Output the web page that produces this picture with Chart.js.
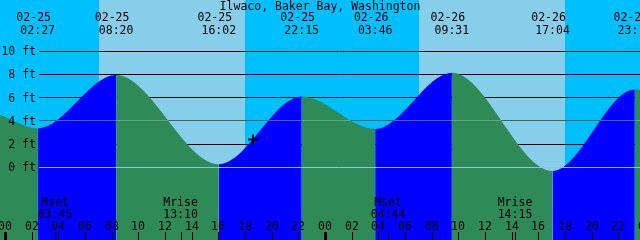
<!DOCTYPE html>
<html>
<head>
<meta charset="utf-8">
<title>Ilwaco, Baker Bay, Washington</title>
<script src="https://cdn.jsdelivr.net/npm/chart.js@4/dist/chart.umd.min.js"></script>
<style>
  html, body { margin: 0; padding: 0; background: #00bfff; overflow: hidden; }
  #wrap { width: 640px; height: 240px; }
</style>
</head>
<body>
<div id="wrap"><canvas id="tideChart" width="640" height="240"></canvas></div>
<script>
// --- DATA ---
const stationName = 'Ilwaco, Baker Bay, Washington';
const dayNames = ['02-25', '02-26'];

// high / low tides
const eventDay  = [0, 0, 0, 0, 1, 1, 1, 1];
const eventTime = ['02:27', '08:20', '16:02', '22:15', '03:46', '09:31', '17:04', '23:14'];
const eventFeet = [3.35, 7.95, 0.26, 6.1, 3.3, 8.15, -0.32, 6.7];

// window of the graph (hours from 02-25 00:00) and level at both edges
const viewHours = [-0.375, 47.625];
const edgeFeet  = [4.5, 6.68];

// sun (day band) and moon
const sunrise = ['07:03', '07:03'];
const sunset  = ['18:00', '18:00'];
const moonName = ['Mset', 'Mrise', 'Mset', 'Mrise'];
const moonDay  = [0, 0, 1, 1];
const moonTime = ['03:45', '13:10', '04:44', '14:15'];

// axes
const feetTicks = [0, 2, 4, 6, 8, 10];
const hourTicks = ['00','02','04','06','08','10','12','14','16','18','20','22'];
const feetRange = [-6.27, 14.42];
const mslFeet = 4;

// "now" marker
const nowHour = 18.6;
const nowFeet = 2.4;

// colours
const NIGHT = '#00bfff';
const DAY = '#87ceeb';
const RISE = '#0000ff';
const FALL = '#2e8b57';
const FONT = '11.5px "DejaVu Sans Mono", monospace';

// 1. HELPERS
function toHours(day, hhmm) {
    const [h, m] = hhmm.split(':').map(Number);
    return day * 24 + h + m / 60;
}

const eventHours = eventTime.map((t, i) => toHours(eventDay[i], t));
const tidePoints = [{ x: viewHours[0], y: edgeFeet[0] }]
    .concat(eventHours.map((h, i) => ({ x: h, y: eventFeet[i] })))
    .concat([{ x: viewHours[1], y: edgeFeet[1] }]);

// 2. BACKGROUND + LABELS PLUGIN
const tideDecor = {
    id: 'tideDecor',
    beforeDatasetsDraw(chart) {
        const { ctx, chartArea: a, scales: { x, y } } = chart;
        ctx.save();
        ctx.fillStyle = NIGHT;
        ctx.fillRect(a.left, a.top, a.right - a.left, a.bottom - a.top);

        // day bands
        ctx.fillStyle = DAY;
        sunrise.forEach((sr, d) => {
            const x0 = Math.round(x.getPixelForValue(toHours(d, sr)));
            const x1 = Math.round(x.getPixelForValue(toHours(d, sunset[d])));
            ctx.fillRect(x0, a.top, x1 - x0, a.bottom - a.top);
        });

        // depth lines (hidden under the water)
        ctx.strokeStyle = '#000';
        ctx.lineWidth = 1;
        feetTicks.forEach(f => {
            const py = Math.floor(y.getPixelForValue(f)) + 0.5;
            ctx.beginPath();
            ctx.moveTo(39, py);
            ctx.lineTo(a.right, py);
            ctx.stroke();
        });
        ctx.restore();
    },
    afterDatasetsDraw(chart) {
        const { ctx, chartArea: a, scales: { x, y } } = chart;
        ctx.save();

        // datum and mean sea level
        let py = Math.floor(y.getPixelForValue(0)) + 0.5;
        ctx.strokeStyle = '#87c8dc';
        ctx.beginPath(); ctx.moveTo(39, py); ctx.lineTo(a.right, py); ctx.stroke();
        py = Math.floor(y.getPixelForValue(mslFeet)) + 0.5;
        ctx.strokeStyle = 'rgba(140,200,170,0.5)';
        ctx.beginPath(); ctx.moveTo(39, py); ctx.lineTo(a.right, py); ctx.stroke();

        ctx.fillStyle = '#000';
        ctx.font = FONT;

        // feet labels
        ctx.textAlign = 'right';
        ctx.textBaseline = 'middle';
        feetTicks.forEach(f => ctx.fillText(f + ' ft', 36, y.getPixelForValue(f) + 1));

        // title
        ctx.textAlign = 'center';
        ctx.textBaseline = 'alphabetic';
        ctx.fillText(stationName, 320, 10);

        // tide event labels
        eventHours.forEach((h, i) => {
            const px = x.getPixelForValue(h);
            ctx.fillText(dayNames[eventDay[i]], px - 4, 21);
            ctx.fillText(eventTime[i], px, 34);
        });

        // moon labels + ticks
        moonName.forEach((m, i) => {
            const px = x.getPixelForValue(toHours(moonDay[i], moonTime[i]));
            ctx.fillText(m, px, 206);
            ctx.fillText(moonTime[i], px, 218);
            ctx.fillRect(Math.round(px), 232, 1, 8);
        });

        // hour ticks
        for (let d = 0; d <= 2; d++) {
            hourTicks.forEach((lbl, k) => {
                const h = d * 24 + k * 2;
                if (h > viewHours[1] + 1) return;
                const px = Math.round(x.getPixelForValue(h));
                ctx.fillText(lbl, px, 230);
                if (k === 0) ctx.fillRect(px - 1, 232, 3, 8);
                else ctx.fillRect(px, 232, 1, 8);
            });
        }
        ctx.restore();
    }
};

// 3. CHART
const ctx = document.getElementById('tideChart').getContext('2d');
new Chart(ctx, {
    type: 'line',
    data: {
        datasets: [
            {
                label: 'now',
                data: [{ x: nowHour, y: nowFeet }],
                showLine: false,
                pointStyle: 'cross',
                pointRadius: 5,
                borderColor: '#000',
                borderWidth: 2,
                order: 0
            },
            {
                label: 'tide',
                data: tidePoints,
                fill: 'start',
                backgroundColor: FALL,
                borderColor: 'rgba(0,0,0,0)',
                borderWidth: 0,
                pointRadius: 0,
                cubicInterpolationMode: 'monotone',
                segment: {
                    backgroundColor: c => c.p1.parsed.y > c.p0.parsed.y ? RISE : FALL
                },
                order: 1
            }
        ]
    },
    options: {
        responsive: false,
        animation: false,
        devicePixelRatio: 1,
        events: [],
        layout: { padding: 0, autoPadding: false },
        plugins: { legend: { display: false }, tooltip: { enabled: false } },
        scales: {
            x: { type: 'linear', min: viewHours[0], max: viewHours[1], display: false },
            y: { type: 'linear', min: feetRange[0], max: feetRange[1], display: false }
        }
    },
    plugins: [tideDecor]
});
</script>
</body>
</html>
